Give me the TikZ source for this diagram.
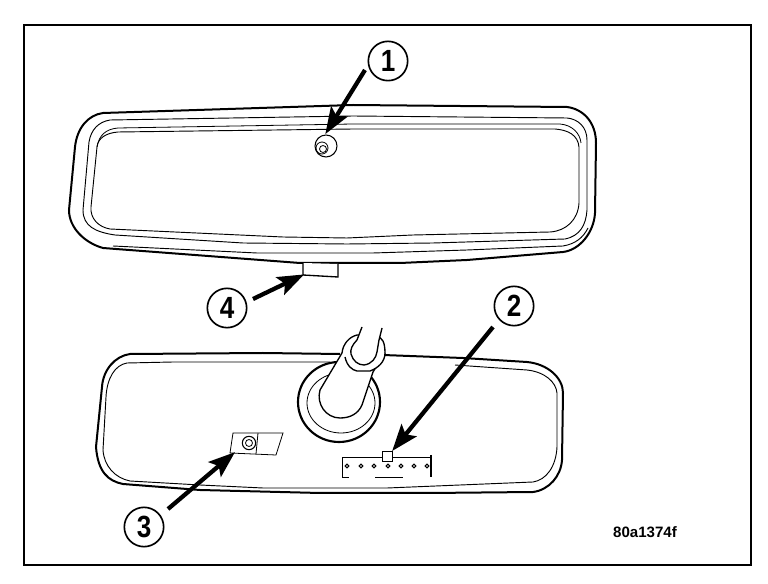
\documentclass[tikz,border=0pt]{standalone}
\usepackage{fontspec}
\usepackage{graphicx}
\setmainfont{Liberation Sans}
\usetikzlibrary{arrows.meta}
\tikzset{
  heavy/.style={line width=1.5pt,black},
  medium/.style={line width=0.7pt,black},
  thin line/.style={line width=0.6pt,black},
  callout/.style={circle,draw=black,line width=1.25pt,minimum size=29.5pt,inner sep=0pt,fill=white,font=\fontsize{23}{24}\selectfont\bfseries},
  pointer/.style={line width=3.2pt,black,-{Stealth[length=20pt,width=14.5pt,inset=4pt]},shorten >=-1pt},
  hole/.style={circle,draw=black,line width=0.7pt,minimum size=2.8pt,inner sep=0pt}
}
\begin{document}
\begin{tikzpicture}[x=0.75pt,y=-0.75pt]
\useasboundingbox (0,0) rectangle (768,584);
\draw[line width=1.5pt] (24,25) rectangle (751,565);
% top mirror
\draw[heavy] (103,113) -- (353,105) -- (567,107) .. controls (583,109) and (596,122) .. (596,143)
  -- (595,213) .. controls (594,232) and (580,250) .. (563,252) -- (467,260) -- (400,263) -- (300,263) -- (103,248)
  .. controls (85,243) and (69,228) .. (69,210) -- (75,147) .. controls (77,128) and (88,115) .. (103,113) -- cycle;
\draw[medium] (110,120) -- (353,116) -- (567,118) .. controls (578,119) and (587,127) .. (587,140)
  -- (587,210) .. controls (586,225) and (580,236) .. (565,239) -- (433,243) -- (347,244) -- (243,243) -- (115,235)
  .. controls (95,232) and (83,226) .. (83,210) -- (89,142) .. controls (91,130) and (98,122) .. (110,120) -- cycle;
\draw[medium] (113,246) -- (257,253) -- (373,253) -- (467,250) -- (563,246) .. controls (575,244) and (583,238) .. (588,228);
\draw[thin line] (97,147) .. controls (99,135) and (106,129) .. (118,128) -- (353,124) -- (560,124) .. controls (572,125) and (580,133) .. (581,143);
\draw[medium] (118,132) -- (353,129) -- (555,129) .. controls (568,130) and (578,135) .. (579,147)
  -- (579,203) .. controls (578,220) and (566,231) .. (550,232) -- (413,235) -- (347,238) -- (283,237) -- (110,229)
  .. controls (98,227) and (90,218) .. (91,207) -- (97,147) .. controls (98,138) and (106,133) .. (118,132) -- cycle;
% mirror tab and bolt
\draw[medium,line width=1pt,fill=white] (303,263) -- (303,275) -- (338,277) -- (338,264);
\node[circle,draw=black,line width=0.8pt,minimum size=16.5pt,inner sep=0pt] (bolt) at (326,146) {};
\draw[thin line] (322,148) circle (6);
\draw[thin line] (323,149) circle (3.5);
\coordinate (tabtip) at (303,275);
% bottom mirror
\draw[heavy] (130,354) -- (263,353) -- (340,354);
\draw[heavy] (383,355) -- (463,358) -- (527,362) .. controls (548,364) and (563,378) .. (563,393)
  -- (562,460) .. controls (561,476) and (549,490) .. (533,492) -- (430,493) -- (320,493) -- (200,490) -- (123,484)
  .. controls (108,481) and (98,472) .. (96,447) -- (102,387) .. controls (103,370) and (115,356) .. (130,354);
\draw[medium] (127,363) -- (173,362) -- (330,362);
\draw[medium] (455,365) -- (527,370) .. controls (545,372) and (556,382) .. (557,393) -- (557,447)
  .. controls (556,467) and (546,480) .. (533,482) -- (387,488) -- (263,488) -- (200,485) -- (130,481)
  .. controls (115,478) and (104,466) .. (103,450) -- (106,397) .. controls (107,378) and (115,365) .. (127,363);
% socket and stalk
\draw[line width=1.6pt,fill=white] (339,402) ellipse (41 and 40);
\draw[thin line] (341,403) ellipse (34 and 30);
\draw[line width=1pt,fill=white] (342,353) -- (320,390) .. controls (316,404) and (326,418) .. (340,418)
  .. controls (350,418) and (358,414) .. (362,405) -- (373,372) -- (385,353) .. controls (385,342) and (382,337) .. (377,337)
  -- (357,335) .. controls (349,337) and (343,344) .. (342,353) -- cycle;
\draw[line width=1pt,fill=white] (345,357) .. controls (347,366) and (352,370) .. (357,371) -- (370,371) .. controls (378,368) and (385,362) .. (385,353);
\draw[line width=1pt,fill=white] (362,327) -- (357,340) .. controls (352,345) and (350,350) .. (351,354)
  .. controls (353,361) and (358,365) .. (364,365) .. controls (372,364) and (376,358) .. (377,352) -- (379,340) -- (382,328);
% bracket
\draw[thin line] (233,433) -- (283,433) -- (276,455) -- (230,453) -- cycle;
\draw[thin line] (258,433) -- (256,454);
\node[circle,draw=black,line width=0.8pt,minimum size=10pt,inner sep=0pt] (nut) at (249,443) {};
\draw[thin line] (249,443) circle (3.5);
\coordinate (brackettip) at (234,453);
% connector
\draw[medium] (342,477) -- (342,457) -- (382,457);
\draw[medium] (393,457) -- (430,457);
\draw[line width=1pt] (431,455) -- (431,477);
\draw[thin line] (342,477) -- (349,477);
\draw[thin line] (375,477) -- (403,477);
\node[draw=black,line width=0.7pt,fill=white,minimum width=8pt,minimum height=7pt,inner sep=0pt] (pin) at (387.5,456.5) {};
\foreach \x in {347,361,374,388,401,414,427} \node[hole] at (\x,466) {};
% callouts
\node[callout] (n1) at (388,61) {\scalebox{0.85}[1]{1}};
\node[callout] (n2) at (514,306) {\scalebox{0.85}[1]{2}};
\node[callout] (n3) at (144,527) {\scalebox{0.85}[1]{3}};
\node[callout] (n4) at (227,308) {\scalebox{0.85}[1]{4}};
\coordinate (t1) at (365,70);
\coordinate (t2) at (493,327);
\coordinate (t3) at (168,509);
\coordinate (t4) at (253,299);
\coordinate (tip1) at (326,133);
\coordinate (tip2) at (393,450);
\draw[pointer] (t1) -- (tip1);
\draw[pointer] (t2) -- (tip2);
\draw[pointer] (t3) -- (brackettip);
\draw[pointer] (t4) -- (tabtip);
\node[font=\fontsize{11.3}{13}\selectfont\bfseries,inner sep=0pt] (code) at (645,532) {80a1374f};
\end{tikzpicture}
\end{document}
